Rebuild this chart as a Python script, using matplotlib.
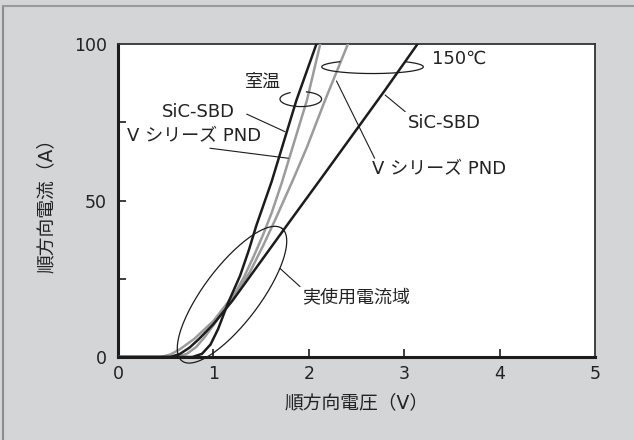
import numpy as np
import matplotlib
matplotlib.use('Agg')
import matplotlib.pyplot as plt
from matplotlib.lines import Line2D

plt.rcParams['font.family'] = ['DejaVu Sans', 'Noto Sans CJK JP']

# 室温 SiC-SBD
v_sbd_rt = [0, 0.78, 0.88, 0.97, 1.05, 1.15, 1.28, 1.37, 1.45, 1.61, 1.70, 1.87, 2.08]
i_sbd_rt = [0, 0, 1.0, 4.0, 9.0, 17.0, 26.0, 34.0, 42.0, 56.0, 65.0, 82.0, 100]
# 室温 V シリーズ PND
v_pnd_rt = [0, 0.62, 0.72, 0.82, 0.92, 1.02, 1.12, 1.22, 1.32, 1.42, 1.52, 1.61,
            1.715, 1.80, 1.89, 1.98, 2.05, 2.12]
i_pnd_rt = [0, 0, 1.0, 3.2, 6.8, 11.0, 15.5, 20.0, 25.5, 32.0, 39.0, 46.0,
            55.5, 64.0, 73.0, 82.0, 91.0, 100]
# 150℃ SiC-SBD
v_sbd_150 = [0, 0.55, 0.65, 0.75, 0.85, 1.0, 1.2, 1.38, 1.66, 1.855, 2.135, 2.52, 2.80, 3.14]
i_sbd_150 = [0, 0, 1.0, 3.0, 5.8, 10.5, 18.0, 25.6, 37.4, 45.6, 57.3, 73.5, 85.3, 100]
# 150℃ V シリーズ PND
v_pnd_150 = [0, 0.45, 0.55, 0.65, 0.8, 1.0, 1.14, 1.28, 1.38, 1.52, 1.65, 1.84, 1.98, 2.17, 2.41]
i_pnd_150 = [0, 0, 0.8, 2.5, 5.8, 11.5, 17.0, 22.5, 27.0, 35.5, 44.0, 57.0, 67.0, 82.0, 100]

x_ticks = [0, 1, 2, 3, 4, 5]
y_ticks = [0, 25, 50, 75, 100]
y_ticklabels = ['0', '', '50', '', '100']

BG = '#d4d5d7'
BLACK = '#1c1c1c'
GRAY = '#9b9b9b'
TXT = '#222222'

fig = plt.figure(figsize=(6.34, 4.40), dpi=100)
fig.set_facecolor(BG)
ax = fig.add_axes([118 / 634, 83 / 440, 477 / 634, 313 / 440])
ax.set_facecolor('white')

# 外枠（左と上だけ見える）
fig.add_artist(Line2D([3 / 634, 3 / 634], [0, 434 / 440], color='#8c8c8c', lw=1.5))
fig.add_artist(Line2D([3 / 634, 1], [434 / 440, 434 / 440], color='#9a9a9a', lw=1.5))

ax.plot(v_pnd_150, i_pnd_150, color=GRAY, lw=1.8, zorder=3)
ax.plot(v_pnd_rt, i_pnd_rt, color=GRAY, lw=1.8, zorder=3)
ax.plot(v_sbd_150, i_sbd_150, color=BLACK, lw=1.8, zorder=4)
ax.plot(v_sbd_rt, i_sbd_rt, color=BLACK, lw=1.8, zorder=4)

ax.set_xlim(0, 5)
ax.set_ylim(0, 100)
ax.set_xticks(x_ticks)
ax.set_yticks(y_ticks)
ax.set_yticklabels(y_ticklabels)
ax.tick_params(direction='in', length=6, width=1.2, colors=BLACK, labelsize=12.5,
               labelcolor=TXT)
ax.tick_params(axis='x', pad=6)
ax.tick_params(axis='y', pad=8)
for t in ax.xaxis.get_major_ticks()[::5]:
    t.tick1line.set_visible(False)
for t in [ax.yaxis.get_major_ticks()[0], ax.yaxis.get_major_ticks()[-1]]:
    t.tick1line.set_visible(False)

for s in ['left', 'bottom']:
    ax.spines[s].set_linewidth(2.2)
    ax.spines[s].set_color(BLACK)
for s in ['top', 'right']:
    ax.spines[s].set_linewidth(1.3)
    ax.spines[s].set_color('#333333')

ax.set_xlabel('順方向電圧（V）', fontsize=13.5, color=TXT, labelpad=7)
ax.set_ylabel('順方向電流（A）', fontsize=13.5, color=TXT, labelpad=13)

# 画素 -> データ換算（注記の形状用）
PX_V = 477 / 5
PX_A = 313 / 100


def ellipse(cx, cy, a_px, b_px, rot_deg=0, t1=0, t2=360):
    t = np.radians(np.linspace(t1, t2, 200))
    r = np.radians(rot_deg)
    dx = a_px * np.cos(t) * np.cos(r) - b_px * np.sin(t) * np.sin(r)
    dy = a_px * np.cos(t) * np.sin(r) + b_px * np.sin(t) * np.cos(r)
    ax.plot(cx + dx / PX_V, cy + dy / PX_A, color=BLACK, lw=0.9,
            zorder=5, clip_on=False)


ellipse(1.916, 82.4, 20.8, 7.5, t1=121, t2=434)
ellipse(2.668, 92.7, 50.8, 6.7, t1=130, t2=410)
ellipse(1.195, 19.9, 83, 28, rot_deg=53)

fs = 13
lead = dict(arrowstyle='-', color=BLACK, lw=0.8, shrinkA=0, shrinkB=0)

ax.text(1.52, 88, '室温', fontsize=fs, color=TXT, ha='center', va='center')
ax.text(3.29, 95.4, '150℃', fontsize=fs, color=TXT, ha='left', va='center')

ax.text(0.84, 78.4, 'SiC-SBD', fontsize=fs, color=TXT, ha='center', va='center')
ax.annotate('', xy=(1.75, 72.0), xytext=(1.349, 77.6), arrowprops=lead)
ax.text(0.797, 70.4, 'V シリーズ PND', fontsize=fs, color=TXT, ha='center', va='center')
ax.annotate('', xy=(1.785, 63.5), xytext=(0.964, 66.7), arrowprops=lead)

ax.text(3.42, 74.9, 'SiC-SBD', fontsize=fs, color=TXT, ha='center', va='center')
ax.annotate('', xy=(2.80, 83.7), xytext=(3.01, 78.4), arrowprops=lead)
ax.text(3.365, 60.1, 'V シリーズ PND', fontsize=fs, color=TXT, ha='center', va='center')
ax.annotate('', xy=(2.29, 88.2), xytext=(2.69, 63.5), arrowprops=lead)

ax.text(1.93, 19.2, '実使用電流域', fontsize=fs, color=TXT, ha='left', va='center')
ax.annotate('', xy=(1.698, 28.3), xytext=(1.908, 22.5), arrowprops=lead)

plt.savefig('out.png', dpi=100, facecolor=BG)
plt.close()
